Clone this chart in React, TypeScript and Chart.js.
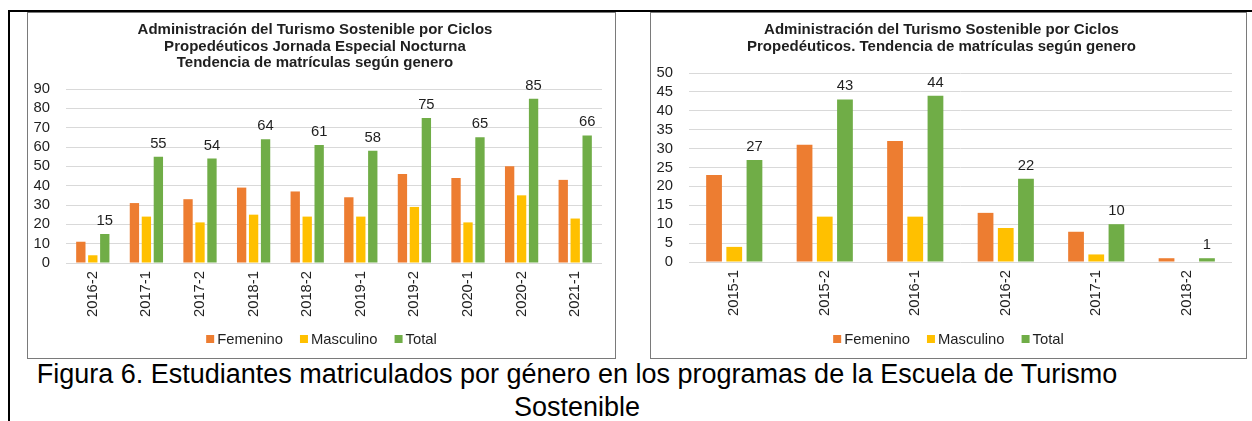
import React, { useEffect, useRef } from "react";
import { Chart, registerables } from "chart.js";

Chart.register(...registerables);

// ---- Data: chart 1 ----
const categories1 = ["2016-2", "2017-1", "2017-2", "2018-1", "2018-2", "2019-1", "2019-2", "2020-1", "2020-2", "2021-1"];
const femenino1 = [11, 31, 33, 39, 37, 34, 46, 44, 50, 43];
const masculino1 = [4, 24, 21, 25, 24, 24, 29, 21, 35, 23];
const total1 = [15, 55, 54, 64, 61, 58, 75, 65, 85, 66];
const yMax1 = 90;
const yStep1 = 10;
const title1 = [
  "Administración del Turismo Sostenible por Ciclos",
  "Propedéuticos Jornada Especial Nocturna",
  "Tendencia de matrículas según genero",
];

// ---- Data: chart 2 ----
const categories2 = ["2015-1", "2015-2", "2016-1", "2016-2", "2017-1", "2018-2"];
const femenino2 = [23, 31, 32, 13, 8, 1];
const masculino2 = [4, 12, 12, 9, 2, 0];
const total2 = [27, 43, 44, 22, 10, 1];
const yMax2 = 50;
const yStep2 = 5;
const title2 = [
  "Administración del Turismo Sostenible por Ciclos",
  "Propedéuticos. Tendencia de matrículas según genero",
];

const seriesNames = ["Femenino", "Masculino", "Total"];
const seriesColors = ["#ED7D31", "#FFC000", "#70AD47"];

const FONT = "'Liberation Sans', Arial, Helvetica, sans-serif";
const TEXT = "#1f1f1f";

const barLabelPlugin = {
  id: "barLabels",
  afterDatasetsDraw(chart: any, _args: any, opts: any) {
    const idx = opts.datasetIndex;
    if (idx === undefined) return;
    const meta = chart.getDatasetMeta(idx);
    const ds = chart.data.datasets[idx];
    const ctx = chart.ctx;
    ctx.save();
    ctx.font = `14.8px ${FONT}`;
    ctx.fillStyle = TEXT;
    ctx.textAlign = "center";
    ctx.textBaseline = "alphabetic";
    meta.data.forEach((el: any, i: number) => {
      ctx.fillText(String(ds.data[i]), el.x, el.y - 9);
    });
    ctx.restore();
  },
};

const customLegendPlugin = {
  id: "customLegend",
  afterDraw(chart: any, _args: any, opts: any) {
    if (opts.y === undefined) return;
    const ctx = chart.ctx;
    ctx.save();
    ctx.font = `14.8px ${FONT}`;
    ctx.textBaseline = "middle";
    ctx.textAlign = "left";
    const box = 8;
    const gap = 3;
    const spacing = 17;
    const items = chart.data.datasets.map((d: any) => ({
      label: d.label,
      color: d.backgroundColor,
      w: ctx.measureText(d.label).width,
    }));
    let total = 0;
    items.forEach((it: any, i: number) => {
      total += box + gap + it.w + (i < items.length - 1 ? spacing : 0);
    });
    let x = chart.width / 2 - total / 2;
    const y = opts.y;
    items.forEach((it: any) => {
      ctx.fillStyle = it.color;
      ctx.fillRect(x, y - box / 2, box, box);
      x += box + gap;
      ctx.fillStyle = TEXT;
      ctx.fillText(it.label, x, y + 1);
      x += it.w + spacing;
    });
    ctx.restore();
  },
};

type ChartProps = {
  left: number;
  width: number;
  categories: string[];
  series: number[][];
  yMax: number;
  yStep: number;
  title: string[];
  titlePadBottom: number;
  rightPad: number;
  bottomPad: number;
};

function BarChart(p: ChartProps) {
  const ref = useRef<HTMLCanvasElement | null>(null);
  const innerW = p.width - 2;
  const innerH = 345;
  useEffect(() => {
    if (!ref.current) return;
    const chart = new Chart(ref.current, {
      type: "bar",
      data: {
        labels: p.categories,
        datasets: p.series.map((data, i) => ({
          label: seriesNames[i],
          data,
          backgroundColor: seriesColors[i],
          borderWidth: 0,
          categoryPercentage: 0.67,
          barPercentage: 0.78,
        })),
      },
      options: {
        animation: false,
        responsive: false,
        devicePixelRatio: 1,
        layout: { padding: { top: 0, left: 0, right: p.rightPad, bottom: p.bottomPad } },
        plugins: {
          legend: { display: false },
          tooltip: { enabled: false },
          title: {
            display: true,
            text: p.title,
            color: TEXT,
            font: { family: FONT, size: 15, weight: "bold", lineHeight: "16.5px" },
            padding: { top: 9, bottom: p.titlePadBottom },
          },
          barLabels: { datasetIndex: 2 },
          customLegend: { y: 326 },
        } as any,
        scales: {
          x: {
            grid: { display: false, drawTicks: false },
            border: { display: false },
            ticks: {
              color: TEXT,
              font: { family: FONT, size: 14.8 },
              minRotation: 90,
              maxRotation: 90,
              padding: 8,
              autoSkip: false,
            },
            afterFit: (s: any) => {
              s.height = 60;
            },
          },
          y: {
            min: 0,
            max: p.yMax,
            grid: { color: "#D9D9D9", lineWidth: 1, drawTicks: false },
            border: { display: false },
            ticks: {
              stepSize: p.yStep,
              autoSkip: false,
              color: TEXT,
              font: { family: FONT, size: 14.8 },
              padding: 16,
            },
            afterFit: (s: any) => {
              s.width = 38;
            },
          },
        },
      },
      plugins: [barLabelPlugin, customLegendPlugin],
    });
    return () => chart.destroy();
  }, []);
  return (
    <div
      style={{
        position: "absolute",
        left: p.left,
        top: 12,
        width: innerW,
        height: innerH,
        border: "1px solid #7a7a7a",
        background: "#fff",
      }}
    >
      <canvas ref={ref} width={innerW} height={innerH} style={{ display: "block", width: innerW, height: innerH }} />
    </div>
  );
}

export default function App() {
  return (
    <div style={{ position: "absolute", left: 0, top: 0, width: 1252, height: 421, fontFamily: FONT, overflow: "hidden" }}>
      <div style={{ position: "absolute", left: 8, top: 10, width: 1244, height: 2, background: "#000" }} />
      <div style={{ position: "absolute", left: 8, top: 10, width: 2, height: 411, background: "#000" }} />
      <BarChart
        left={27}
        width={589}
        categories={categories1}
        series={[femenino1, masculino1, total1]}
        yMax={yMax1}
        yStep={yStep1}
        title={title1}
        titlePadBottom={17.5}
        rightPad={13}
        bottomPad={35}
      />
      <BarChart
        left={650}
        width={597}
        categories={categories2}
        series={[femenino2, masculino2, total2]}
        yMax={yMax2}
        yStep={yStep2}
        title={title2}
        titlePadBottom={18}
        rightPad={14}
        bottomPad={36}
      />
      <div
        style={{
          position: "absolute",
          left: 10,
          top: 358,
          width: 1134,
          textAlign: "center",
          fontSize: 27,
          lineHeight: "33px",
          color: "#000",
          fontFamily: FONT,
        }}
      >
        Figura 6. Estudiantes matriculados por género en los programas de la Escuela de Turismo Sostenible
      </div>
    </div>
  );
}
